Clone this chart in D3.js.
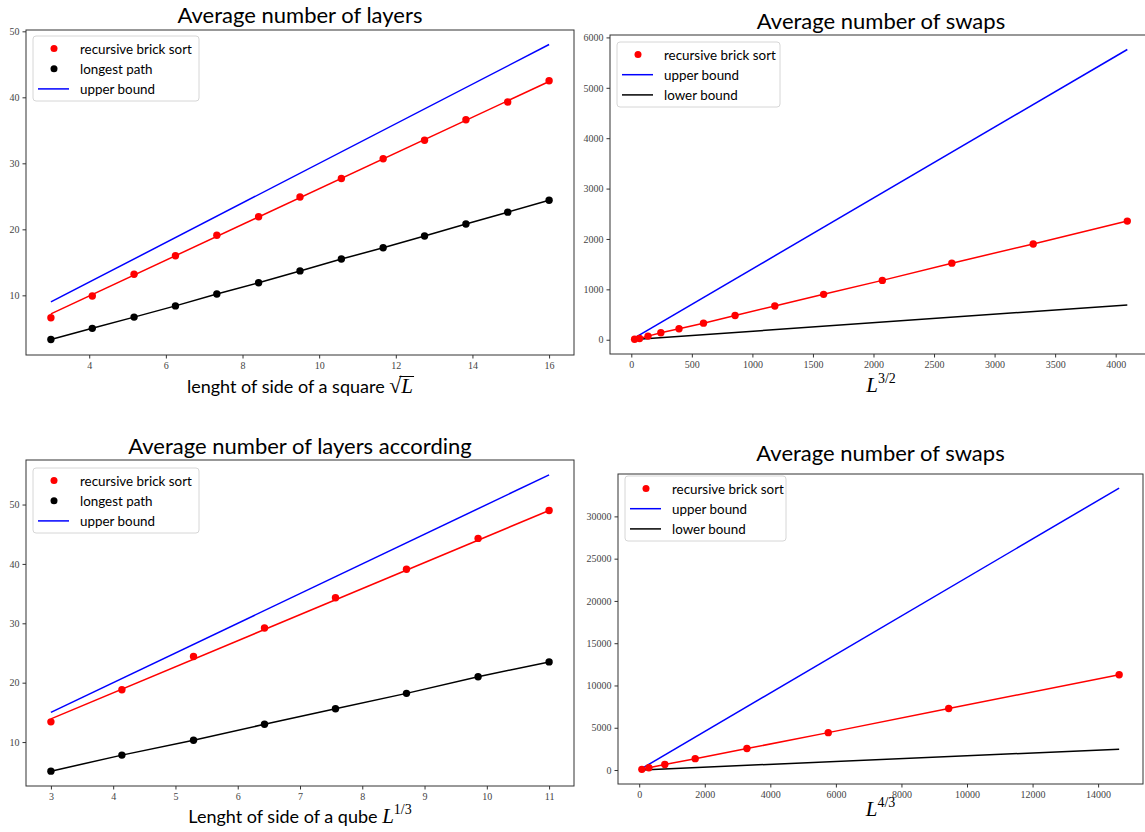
<!DOCTYPE html>
<html>
<head>
<meta charset="utf-8">
<script src="https://cdn.jsdelivr.net/npm/d3@7"></script>
<style>
  body { margin: 0; background: #fff; }
  svg { display: block; }
</style>
</head>
<body>
<svg id="chart" width="1145" height="832"></svg>
<script>
// --- data ---
// 2D: side of a square sqrt(L)
const sideSquare = [3, 4.08, 5.17, 6.25, 7.33, 8.42, 9.5, 10.58, 11.67, 12.75, 13.83, 14.92, 16];
const layersSquareBrick = [6.6, 9.9, 13.2, 16.0, 19.1, 21.9, 24.9, 27.7, 30.7, 33.5, 36.6, 39.3, 42.5];
const layersSquarePath = [3.3, 5.0, 6.7, 8.4, 10.2, 11.9, 13.7, 15.5, 17.2, 19.0, 20.8, 22.6, 24.4];
const layersSquareFit = [7.2, 42.4];      // at sideSquare ends
const layersSquareUpper = [9, 48];

// 2D swaps vs L^{3/2}
const swapsSquareX = [27, 68, 138, 244, 394, 596, 857, 1185, 1588, 2073, 2647, 3319, 4096];
const swapsSquareBrick = [10, 25, 72, 138, 217, 329, 480, 671, 901, 1178, 1520, 1901, 2355];
const swapsSquareUpper = [38, 5760];
const swapsSquareLower = [5, 691];

// 3D: side of a qube L^{1/3}
const sideCube = [3, 4.14, 5.29, 6.43, 7.57, 8.71, 9.86, 11];
const layersCubeBrick = [13.4, 18.8, 24.4, 29.2, 34.3, 39.1, 44.3, 49.0];
const layersCubePath = [5.1, 7.8, 10.3, 13.0, 15.6, 18.2, 21.0, 23.5];
const layersCubeFit = [13.9, 49.0];
const layersCubeUpper = [15, 55];

// 3D swaps vs L^{4/3}
const swapsCubeX = [81, 295, 781, 1708, 3286, 5767, 9441, 14641];
const swapsCubeBrick = [77, 270, 654, 1346, 2538, 4423, 7269, 11269];
const swapsCubeUpper = [185, 33346];
const swapsCubeLower = [14, 2462];

const ends = a => [a[0], a[a.length - 1]];
const zip = (xs, ys) => xs.map((x, i) => [x, ys[i]]);

const SANS = 'Lato, "Liberation Sans", sans-serif';
const SERIF = '"Liberation Serif", "DejaVu Serif", serif';

const svg = d3.select('#chart');

function drawPanel(p) {
    const g = svg.append('g');
    const x = d3.scaleLinear().domain(p.xDomain).range([p.left, p.right]);
    const y = d3.scaleLinear().domain(p.yDomain).range([p.bottom, p.top]);

    const line = d3.line().x(d => x(d[0])).y(d => y(d[1]));

    // series
    p.series.forEach(s => {
        if (s.line) {
            g.append('path')
                .attr('d', line(s.line))
                .attr('fill', 'none')
                .attr('stroke', s.color)
                .attr('stroke-width', 1.5);
        }
        if (s.dots) {
            g.selectAll(null)
                .data(s.dots)
                .join('circle')
                .attr('cx', d => x(d[0]))
                .attr('cy', d => y(d[1]))
                .attr('r', 3.7)
                .attr('fill', s.color);
        }
    });

    // axes
    const xAxis = g.append('g')
        .attr('transform', `translate(0,${p.bottom})`)
        .call(d3.axisBottom(x).tickValues(p.xTicks).tickSize(3.5).tickPadding(3).tickFormat(d3.format('d')));
    const yAxis = g.append('g')
        .attr('transform', `translate(${p.left},0)`)
        .call(d3.axisLeft(y).tickValues(p.yTicks).tickSize(3.5).tickPadding(3).tickFormat(d3.format('d')));
    [xAxis, yAxis].forEach(a => {
        a.select('.domain').remove();
        a.selectAll('.tick line').attr('stroke', '#333');
        a.selectAll('.tick text')
            .attr('fill', '#444')
            .style('font-family', SERIF)
            .style('font-size', '10px');
    });

    // frame
    g.append('rect')
        .attr('x', p.left).attr('y', p.top)
        .attr('width', p.right - p.left).attr('height', p.bottom - p.top)
        .attr('fill', 'none')
        .attr('stroke', '#333')
        .attr('stroke-width', 1);

    // title
    g.append('text')
        .attr('x', (p.left + p.right) / 2)
        .attr('y', p.titleY)
        .attr('text-anchor', 'middle')
        .style('font-family', SANS)
        .style('font-size', '22px')
        .text(p.title);

    // x label
    p.xLabel(g, (p.left + p.right) / 2, p.labelY);

    // legend
    const lg = g.append('g').attr('transform', `translate(${p.left + 7},${p.top + p.legendTop})`);
    const rowH = 20.2;
    lg.append('rect')
        .attr('width', p.legendW).attr('height', 65)
        .attr('rx', 3)
        .attr('fill', 'white').attr('fill-opacity', 0.8)
        .attr('stroke', '#d6d6d6');
    p.legend.forEach((e, i) => {
        const cy = 12.5 + i * rowH;
        if (e.type === 'dot') {
            lg.append('circle').attr('cx', 21).attr('cy', cy).attr('r', 3.5).attr('fill', e.color);
        } else {
            lg.append('line').attr('x1', 5).attr('x2', 36).attr('y1', cy).attr('y2', cy)
                .attr('stroke', e.color).attr('stroke-width', 1.5);
        }
        lg.append('text')
            .attr('x', 47).attr('y', cy + 5)
            .style('font-family', SANS)
            .style('font-size', '13.4px')
            .text(e.label);
    });
}

// label helpers: plain text followed by a math L
function labelWithMath(text, mathKind, sup) {
    return (g, cx, by) => {
        const t = g.append('text')
            .attr('x', cx).attr('y', by)
            .attr('text-anchor', 'middle')
            .style('font-family', SANS)
            .style('font-size', '18px');
        if (text) t.append('tspan').text(text);
        if (mathKind === 'sqrt') {
            t.append('tspan').style('font-family', SERIF).style('font-size', '22px').text('\u221A');
        }
        t.append('tspan')
            .style('font-family', SERIF).style('font-style', 'italic').style('font-size', '21px')
            .attr('class', 'mathL')
            .text('L');
        if (sup) {
            t.append('tspan')
                .attr('dy', -9)
                .style('font-family', SERIF).style('font-size', '14px')
                .text(sup);
        }
        if (mathKind === 'sqrt') {
            // overline of the radical above L
            const b = t.select('.mathL').node().getBBox();
            g.append('line')
                .attr('x1', b.x - 1).attr('x2', b.x + b.width + 1)
                .attr('y1', b.y + 2.5).attr('y2', b.y + 2.5)
                .attr('stroke', '#000').attr('stroke-width', 1);
        }
    };
}

drawPanel({
    left: 26, right: 574, top: 30, bottom: 355,
    xDomain: [2.35, 16.65], yDomain: [0.96, 50.2],
    xTicks: [4, 6, 8, 10, 12, 14, 16], yTicks: [10, 20, 30, 40, 50],
    title: 'Average number of layers', titleY: 23,
    xLabel: labelWithMath('lenght of side of a square ', 'sqrt'), labelY: 393,
    series: [
        { color: '#0000ff', line: zip(ends(sideSquare), layersSquareUpper) },
        { color: '#ff0000', line: zip(ends(sideSquare), layersSquareFit), dots: zip(sideSquare, layersSquareBrick) },
        { color: '#000000', line: zip(sideSquare, layersSquarePath), dots: zip(sideSquare, layersSquarePath) }
    ],
    legendTop: 6, legendW: 166,
    legend: [
        { type: 'dot', color: '#ff0000', label: 'recursive brick sort' },
        { type: 'dot', color: '#000000', label: 'longest path' },
        { type: 'line', color: '#0000ff', label: 'upper bound' }
    ]
});

drawPanel({
    left: 610, right: 1152, top: 35, bottom: 354,
    xDomain: [-176, 4300], yDomain: [-283, 6048],
    xTicks: d3.range(0, 4001, 500), yTicks: d3.range(0, 6001, 1000),
    title: 'Average number of swaps', titleY: 29,
    xLabel: labelWithMath('', 'pow', '3/2'), labelY: 392,
    series: [
        { color: '#0000ff', line: zip(ends(swapsSquareX), swapsSquareUpper) },
        { color: '#000000', line: zip(ends(swapsSquareX), swapsSquareLower) },
        { color: '#ff0000', line: zip(swapsSquareX, swapsSquareBrick), dots: zip(swapsSquareX, swapsSquareBrick) }
    ],
    legendTop: 7, legendW: 163,
    legend: [
        { type: 'dot', color: '#ff0000', label: 'recursive brick sort' },
        { type: 'line', color: '#0000ff', label: 'upper bound' },
        { type: 'line', color: '#000000', label: 'lower bound' }
    ]
});

drawPanel({
    left: 26, right: 574, top: 460, bottom: 786,
    xDomain: [2.6, 11.4], yDomain: [2.6, 57.5],
    xTicks: d3.range(3, 12), yTicks: [10, 20, 30, 40, 50],
    title: 'Average number of layers according', titleY: 454,
    xLabel: labelWithMath('Lenght of side of a qube ', 'pow', '1/3'), labelY: 823,
    series: [
        { color: '#0000ff', line: zip(ends(sideCube), layersCubeUpper) },
        { color: '#ff0000', line: zip(ends(sideCube), layersCubeFit), dots: zip(sideCube, layersCubeBrick) },
        { color: '#000000', line: zip(sideCube, layersCubePath), dots: zip(sideCube, layersCubePath) }
    ],
    legendTop: 8, legendW: 166,
    legend: [
        { type: 'dot', color: '#ff0000', label: 'recursive brick sort' },
        { type: 'dot', color: '#000000', label: 'longest path' },
        { type: 'line', color: '#0000ff', label: 'upper bound' }
    ]
});

drawPanel({
    left: 618, right: 1143, top: 474, bottom: 784,
    xDomain: [-647, 15369], yDomain: [-1653, 35013],
    xTicks: d3.range(0, 14001, 2000), yTicks: d3.range(0, 30001, 5000),
    title: 'Average number of swaps', titleY: 461,
    xLabel: labelWithMath('', 'pow', '4/3'), labelY: 816,
    series: [
        { color: '#0000ff', line: zip(ends(swapsCubeX), swapsCubeUpper) },
        { color: '#000000', line: zip(ends(swapsCubeX), swapsCubeLower) },
        { color: '#ff0000', line: zip(swapsCubeX, swapsCubeBrick), dots: zip(swapsCubeX, swapsCubeBrick) }
    ],
    legendTop: 2, legendW: 161,
    legend: [
        { type: 'dot', color: '#ff0000', label: 'recursive brick sort' },
        { type: 'line', color: '#0000ff', label: 'upper bound' },
        { type: 'line', color: '#000000', label: 'lower bound' }
    ]
});
</script>
</body>
</html>
